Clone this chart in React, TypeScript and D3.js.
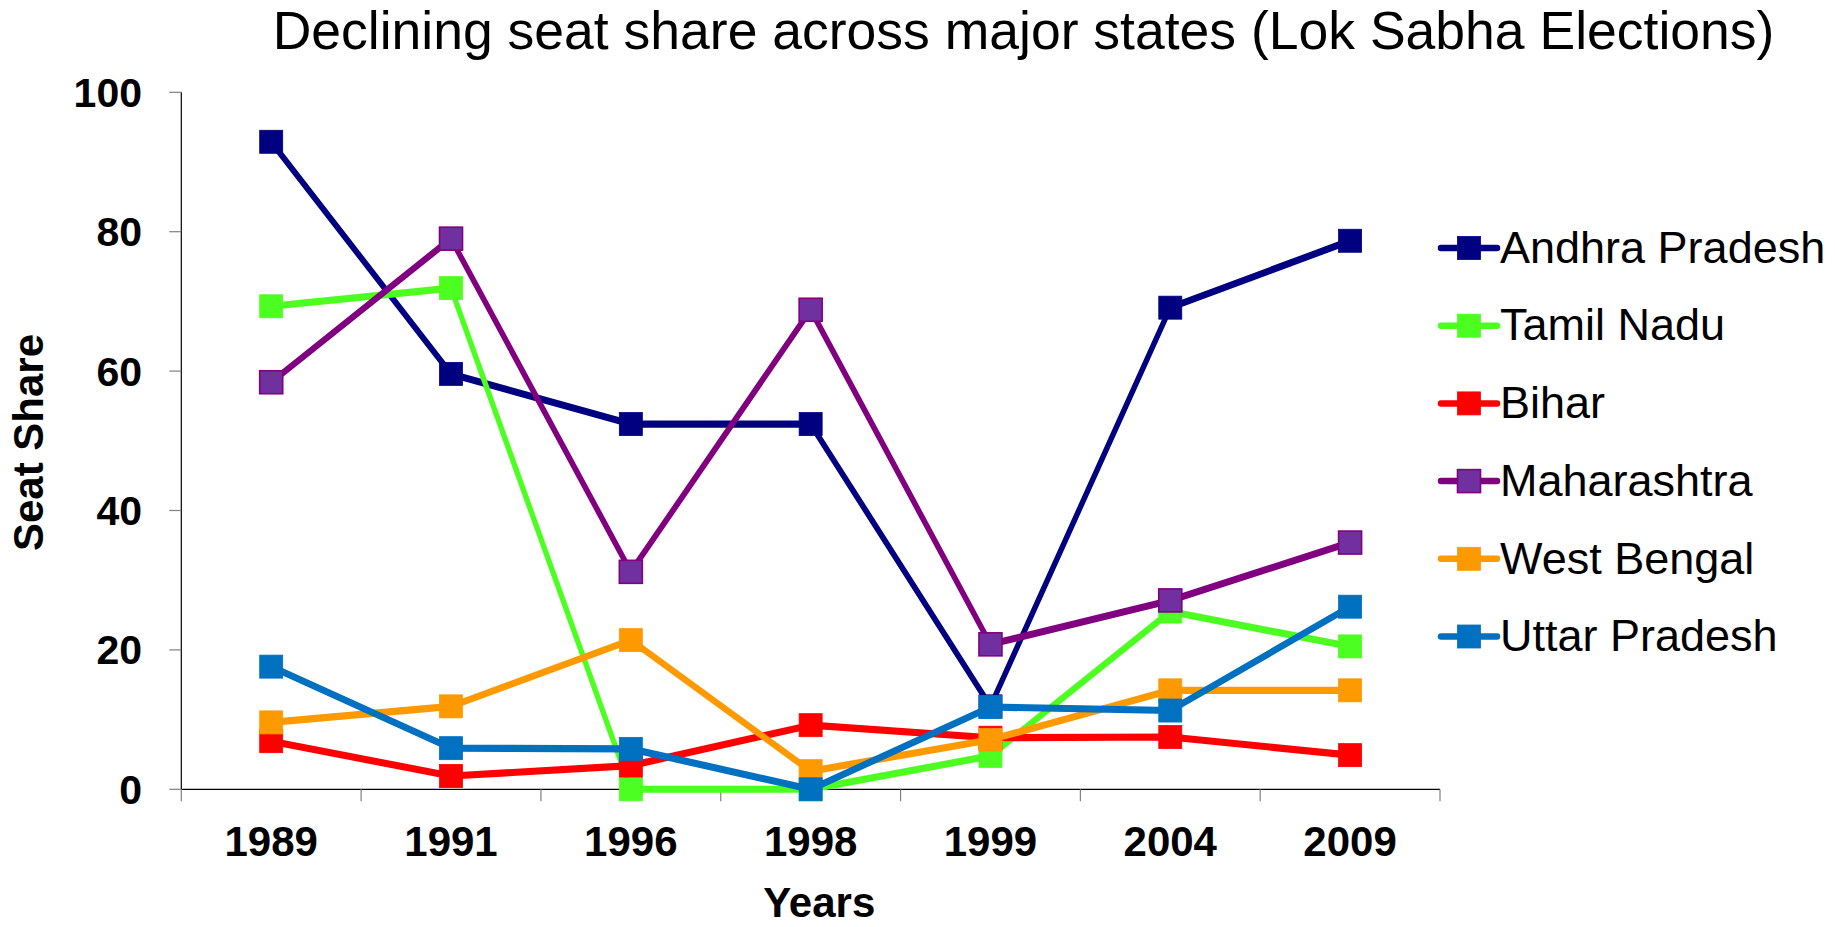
import React from "react";
import * as d3 from "d3";

const years = ["1989", "1991", "1996", "1998", "1999", "2004", "2009"];
const andhraPradesh = [92.9, 59.6, 52.4, 52.4, 11.9, 69.1, 78.7];
const tamilNadu = [69.3, 71.9, 0, 0, 4.8, 25.5, 20.5];
const bihar = [6.9, 1.9, 3.4, 9.2, 7.4, 7.5, 4.9];
const maharashtra = [58.4, 79.0, 31.2, 68.8, 20.8, 27.1, 35.4];
const westBengal = [9.6, 11.9, 21.4, 2.6, 7.1, 14.2, 14.2];
const uttarPradesh = [17.6, 5.9, 5.8, 0, 11.8, 11.3, 26.2];
const yTicks = [0, 20, 40, 60, 80, 100];

const seriesNames = ["Andhra Pradesh", "Tamil Nadu", "Bihar", "Maharashtra", "West Bengal", "Uttar Pradesh"];
const seriesValues = [andhraPradesh, tamilNadu, bihar, maharashtra, westBengal, uttarPradesh];
const lineColors = ["#000080", "#4CFF20", "#FF0000", "#800080", "#FF9900", "#0070C0"];
const markerFills = ["#000080", "#4CFF20", "#FF0000", "#7030A0", "#FF9900", "#0070C0"];

const FONT = "'Liberation Sans', Arial, Helvetica, sans-serif";
const W = 1835;
const H = 927;
const SY = 1.4; // vertical stretch of the line strokes

export default function App() {
  const x = d3.scalePoint<string>().domain(years).range([181.3, 1440]).padding(0.5);
  const y = d3.scaleLinear().domain([0, 100]).range([789.3, 92.3]);
  const step = x.step();
  const left = 181.3;
  const right = 1440;
  const bottom = y(0);

  const line = d3
    .line<number>()
    .x((_, i) => x(years[i]) as number)
    .y((d) => y(d) / SY);

  const ms = 23;
  const legendY0 = 248;
  const legendDy = 77.7;

  return (
    <svg
      width={W}
      height={H}
      style={{ position: "absolute", left: 0, top: 0, background: "#fff" }}
      fontFamily={FONT}
    >
      <rect x={0} y={0} width={W} height={H} fill="#fff" />
      <text x={1023.5} y={49.3} fontSize={53.5} textAnchor="middle" fill="#000">
        Declining seat share across major states (Lok Sabha Elections)
      </text>

      {/* Y axis */}
      <line x1={left} x2={left} y1={y(100)} y2={bottom} stroke="#000" strokeWidth={1.2} />
      {yTicks.map((t) => (
        <g key={"yt" + t}>
          <line x1={left - 12} x2={left} y1={y(t)} y2={y(t)} stroke="#808080" strokeWidth={1.2} />
          <text
            x={142}
            y={y(t)}
            dy="0.355em"
            fontSize={41}
            fontWeight="bold"
            textAnchor="end"
            fill="#000"
          >
            {t}
          </text>
        </g>
      ))}

      {/* X axis */}
      <line x1={left} x2={right} y1={bottom} y2={bottom} stroke="#000" strokeWidth={1.2} />
      {d3.range(years.length + 1).map((k) => (
        <line
          key={"xt" + k}
          x1={left + k * step}
          x2={left + k * step}
          y1={bottom}
          y2={bottom + 12}
          stroke="#808080"
          strokeWidth={1.2}
        />
      ))}
      {years.map((yr) => (
        <text
          key={"xl" + yr}
          x={x(yr)}
          y={856}
          fontSize={42}
          fontWeight="bold"
          textAnchor="middle"
          fill="#000"
        >
          {yr}
        </text>
      ))}

      <text
        transform={`translate(43.3, 442.5) rotate(-90)`}
        fontSize={42}
        fontWeight="bold"
        textAnchor="middle"
        fill="#000"
      >
        Seat Share
      </text>
      <text x={819.2} y={917} fontSize={42} fontWeight="bold" textAnchor="middle" fill="#000">
        Years
      </text>

      {/* Series */}
      {seriesValues.map((vals, si) => (
        <g key={"s" + si}>
          <g transform={`scale(1, ${SY})`}>
            <path
              d={line(vals) || ""}
              fill="none"
              stroke={lineColors[si]}
              strokeWidth={5.1}
              strokeLinejoin="round"
              strokeLinecap="round"
            />
          </g>
          {vals.map((v, i) => (
            <rect
              key={"m" + i}
              x={(x(years[i]) as number) - ms / 2}
              y={y(v) - ms / 2}
              width={ms}
              height={ms}
              fill={markerFills[si]}
              stroke={lineColors[si]}
              strokeWidth={si === 3 ? 1.6 : 0.8}
            />
          ))}
        </g>
      ))}

      {/* Legend */}
      {seriesNames.map((name, si) => {
        const cy = legendY0 + si * legendDy;
        return (
          <g key={"lg" + si}>
            <line
              x1={1441}
              x2={1497}
              y1={cy}
              y2={cy}
              stroke={lineColors[si]}
              strokeWidth={6.5}
              strokeLinecap="round"
            />
            <rect
              x={1469 - ms / 2}
              y={cy - ms / 2}
              width={ms}
              height={ms}
              fill={markerFills[si]}
              stroke={lineColors[si]}
              strokeWidth={si === 3 ? 1.6 : 0.8}
            />
            <text x={1500} y={cy + 14.7} fontSize={45} fill="#000">
              {name}
            </text>
          </g>
        );
      })}
    </svg>
  );
}
